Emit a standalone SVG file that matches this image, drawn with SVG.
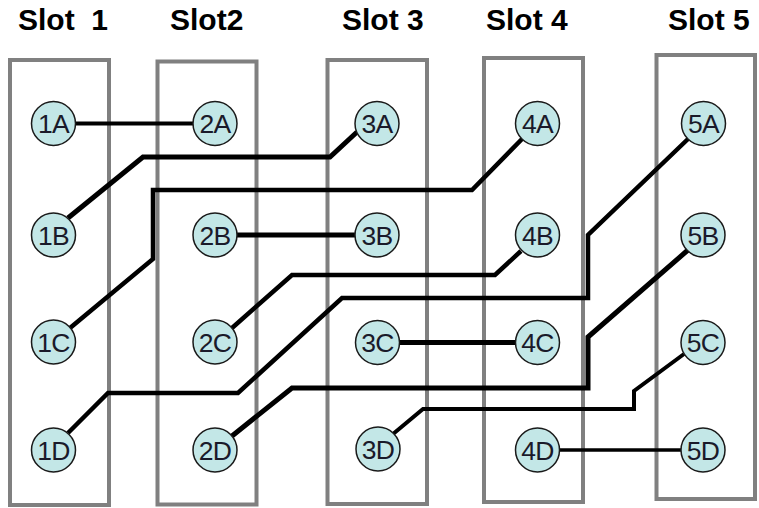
<svg xmlns="http://www.w3.org/2000/svg" width="759" height="508" viewBox="0 0 759 508">
<style>
.slot{fill:#fff;stroke:#808080;stroke-width:4}
.title{font-family:"Liberation Sans",Arial,sans-serif;font-weight:bold;font-size:30px;fill:#000}
.port circle{fill:#c3e7e7;stroke:#1a1a1a;stroke-width:1.5}
.port text{font-family:"Liberation Sans",Arial,sans-serif;font-size:26.5px;fill:#1a1a2a;text-anchor:middle;letter-spacing:-0.8px}
.w{fill:none;stroke:#000;stroke-linejoin:miter;stroke-linecap:butt}
</style>
<rect width="759" height="508" fill="#fff"/>
<g id="slots">
<g id="slot1"><rect class="slot" x="10" y="60" width="99" height="445"/><text class="title" x="18" y="30" xml:space="preserve">Slot  1</text></g>
<g id="slot2"><rect class="slot" x="157.5" y="61.5" width="99" height="443"/><text class="title" x="170" y="30">Slot2</text></g>
<g id="slot3"><rect class="slot" x="327.5" y="60" width="99.5" height="444"/><text class="title" x="342" y="30">Slot 3</text></g>
<g id="slot4"><rect class="slot" x="484" y="58" width="99" height="444"/><text class="title" x="486" y="30">Slot 4</text></g>
<g id="slot5"><rect class="slot" x="656.5" y="55" width="98.5" height="444"/><text class="title" x="668" y="30">Slot 5</text></g>
</g>
<g id="connectors">
<path class="w" stroke-width="4" d="M75,123.5 H194"/>
<path class="w" stroke-width="5" d="M68,218 L143,157 H330 L357,132"/>
<path class="w" stroke-width="4.5" d="M70,328 L153,259 V190 H472 L522,139"/>
<path class="w" stroke-width="5" d="M237,235 H356"/>
<path class="w" stroke-width="4.5" d="M68,433 L108,393 H238 L342,298 H588 V235 L688,139"/>
<path class="w" stroke-width="4.5" d="M232,328 L292,275 H495 L521,251"/>
<path class="w" stroke-width="5" d="M232,436 L292,388 H588 V337 L688,250"/>
<path class="w" stroke-width="5" d="M399,342.5 H516"/>
<path class="w" stroke-width="4" d="M393,434 L423,409 H634 V391 L684,354"/>
<path class="w" stroke-width="3.5" d="M559,450 H681"/>
</g>
<g id="ports">
<g id="p1A" class="port"><circle cx="53.5" cy="123.5" r="22"/><text x="53.5" y="133">1A</text></g>
<g id="p1B" class="port"><circle cx="53.5" cy="235" r="22"/><text x="53.5" y="244.5">1B</text></g>
<g id="p1C" class="port"><circle cx="53.5" cy="342" r="22"/><text x="53.5" y="351.5">1C</text></g>
<g id="p1D" class="port"><circle cx="53.5" cy="450" r="22"/><text x="53.5" y="459.5">1D</text></g>
<g id="p2A" class="port"><circle cx="215" cy="123.5" r="22"/><text x="215" y="133">2A</text></g>
<g id="p2B" class="port"><circle cx="215" cy="235" r="22"/><text x="215" y="244.5">2B</text></g>
<g id="p2C" class="port"><circle cx="215" cy="342" r="22"/><text x="215" y="351.5">2C</text></g>
<g id="p2D" class="port"><circle cx="215" cy="450" r="22"/><text x="215" y="459.5">2D</text></g>
<g id="p3A" class="port"><circle cx="377" cy="123.5" r="22"/><text x="377" y="133">3A</text></g>
<g id="p3B" class="port"><circle cx="377" cy="235" r="22"/><text x="377" y="244.5">3B</text></g>
<g id="p3C" class="port"><circle cx="377.5" cy="342.5" r="22"/><text x="377.5" y="352">3C</text></g>
<g id="p3D" class="port"><circle cx="378" cy="449" r="22"/><text x="378" y="458.5">3D</text></g>
<g id="p4A" class="port"><circle cx="537.5" cy="123.5" r="22"/><text x="537.5" y="133">4A</text></g>
<g id="p4B" class="port"><circle cx="537.5" cy="235" r="22"/><text x="537.5" y="244.5">4B</text></g>
<g id="p4C" class="port"><circle cx="537.5" cy="342.5" r="22"/><text x="537.5" y="352">4C</text></g>
<g id="p4D" class="port"><circle cx="537.5" cy="450" r="22"/><text x="537.5" y="459.5">4D</text></g>
<g id="p5A" class="port"><circle cx="703.5" cy="123.5" r="22"/><text x="703.5" y="133">5A</text></g>
<g id="p5B" class="port"><circle cx="703" cy="235" r="22"/><text x="703" y="244.5">5B</text></g>
<g id="p5C" class="port"><circle cx="703" cy="342.5" r="22"/><text x="703" y="352">5C</text></g>
<g id="p5D" class="port"><circle cx="703" cy="450" r="22"/><text x="703" y="459.5">5D</text></g>
</g>
</svg>
